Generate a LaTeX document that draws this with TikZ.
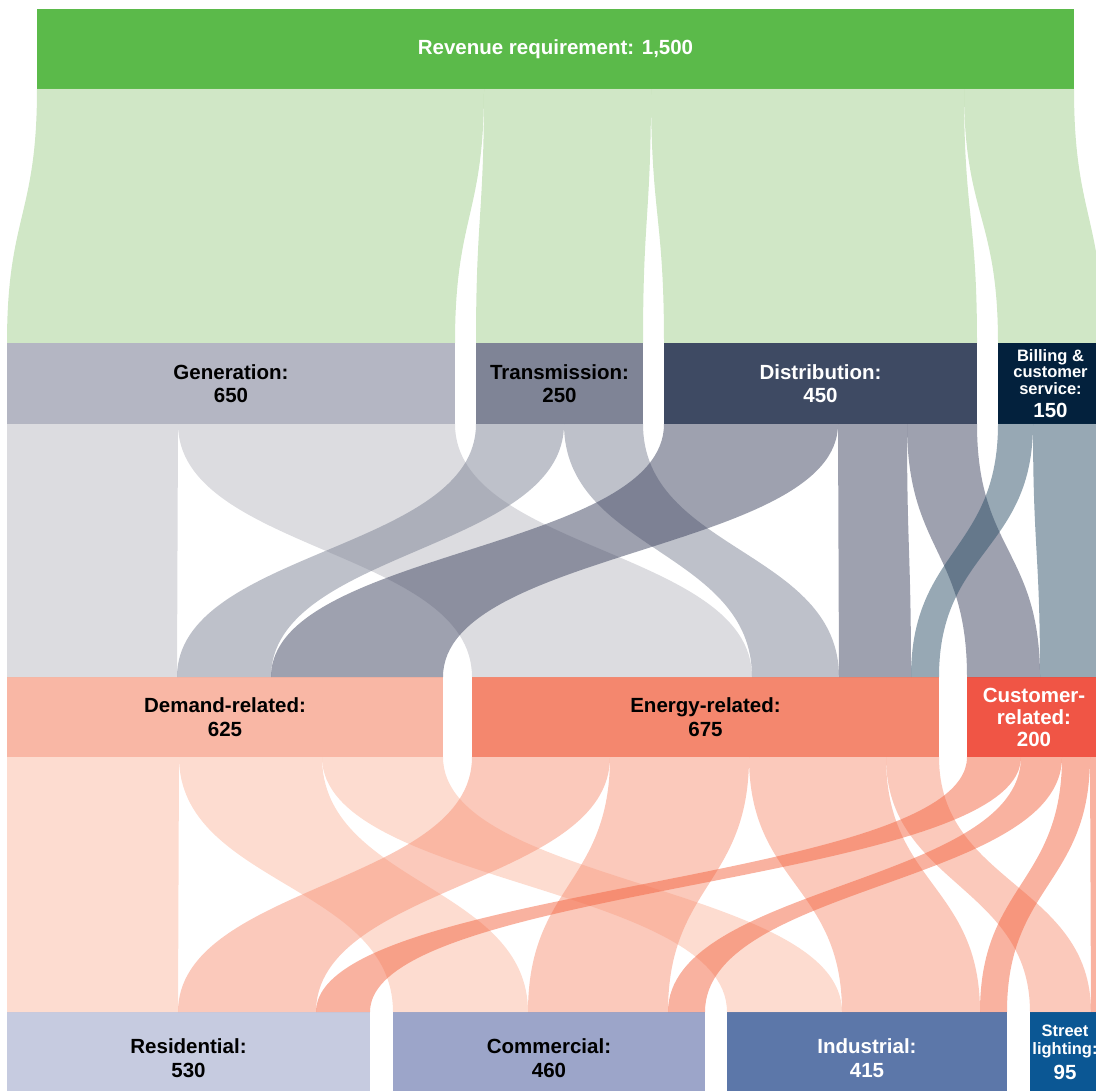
\documentclass[tikz,border=0pt]{standalone}
\usepackage{fontspec}
\setmainfont{Liberation Sans}
\usetikzlibrary{calc}

\definecolor{revcol}{HTML}{5BBA4A}
\definecolor{gencol}{HTML}{B4B6C3}
\definecolor{trancol}{HTML}{7F8496}
\definecolor{distcol}{HTML}{3E4A63}
\definecolor{billcol}{HTML}{03213D}
\definecolor{demcol}{HTML}{F9B7A5}
\definecolor{enecol}{HTML}{F4876E}
\definecolor{custcol}{HTML}{F05545}
\definecolor{rescol}{HTML}{C6CBE0}
\definecolor{comcol}{HTML}{9CA5C9}
\definecolor{indcol}{HTML}{5C77A9}
\definecolor{strcol}{HTML}{0B5794}
% flow colours (drawn at half opacity)
\definecolor{topflow}{HTML}{A1CF8D}
\definecolor{genflow}{HTML}{B9B9C1}
\definecolor{tranflow}{HTML}{7D8395}
\definecolor{distflow}{HTML}{3D435F}
\definecolor{billflow}{HTML}{2F5169}
\definecolor{demflow}{HTML}{FBB9A1}
\definecolor{eneflow}{HTML}{F79377}
\definecolor{custflow}{HTML}{F36541}

\newcommand{\boxfont}{\bfseries\fontsize{20.5}{23.5}\selectfont}
\newcommand{\smallboxfont}{\bfseries\fontsize{16.5}{16.5}\selectfont}

\begin{document}
\begin{tikzpicture}[
    x=1pt, y=-1pt,
    box/.style={rectangle, inner sep=0pt, outer sep=0pt, anchor=north west, align=center, font=\boxfont},
    band/.style={fill=#1, fill opacity=0.5, draw=none}
]
    \useasboundingbox (0,0) rectangle (1096,1091);

    % Revenue
    \node[box, fill=revcol, text=white, minimum width=1037, minimum height=80] (rev) at (37,9) {Revenue requirement: 1,500};

    % Functions
    \node[box, fill=gencol, minimum width=448, minimum height=81] (gen) at (7,343) {Generation:\\650};
    \node[box, fill=trancol, minimum width=167, minimum height=81] (tran) at (476,343) {Transmission:\\250};
    \node[box, fill=distcol, text=white, minimum width=313, minimum height=81] (dist) at (664,343) {Distribution:\\450};
    \node[box, fill=billcol, text=white, font=\smallboxfont, minimum width=105, minimum height=81] (bill) at (998,343) {Billing \&\\customer\\service:\\[6.5pt]{\boxfont 150}};

    % Classification
    \node[box, fill=demcol, minimum width=436, minimum height=80] (dem) at (7,677) {Demand-related:\\625};
    \node[box, fill=enecol, minimum width=467, minimum height=80] (ene) at (472,677) {Energy-related:\\675};
    \node[box, fill=custcol, text=white, font=\bfseries\fontsize{20.5}{22}\selectfont, minimum width=134, minimum height=80] (cust) at (967,677) {Customer-\\related:\\200};

    % Customer classes
    \node[box, fill=rescol, minimum width=363, minimum height=92] (res) at (7,1012) {Residential:\\530};
    \node[box, fill=comcol, minimum width=312, minimum height=92] (com) at (393,1012) {Commercial:\\460};
    \node[box, fill=indcol, text=white, minimum width=280, minimum height=92] (ind) at (727,1012) {Industrial:\\415};
    \node[box, fill=strcol, text=white, font=\smallboxfont, minimum width=70, minimum height=80] (str) at (1030,1012) {Street\\[2pt]lighting:\\[6pt]{\boxfont 95}};

    % Flows
    \foreach \src/\a/\b/\dst/\c/\d/\col in {
        rev/0/447/gen/0/448/topflow, rev/447/614/tran/0/167/topflow,
        rev/614/927/dist/0/313/topflow, rev/927/1037/bill/0/105/topflow,
        gen/0/171/dem/0/170/genflow, gen/171/448/ene/0/280/genflow,
        tran/0/88/dem/170/264/tranflow, tran/88/167/ene/280/367/tranflow,
        dist/0/174/dem/264/436/distflow, dist/174/243/ene/367/439/distflow,
        dist/243/313/cust/0/73/distflow,
        bill/0/35/ene/439/467/billflow, bill/35/105/cust/73/134/billflow,
        dem/0/172/res/0/171/demflow, dem/172/315/com/0/135/demflow,
        dem/315/436/ind/0/115/demflow,
        ene/0/138/res/171/309/eneflow, ene/138/277/com/135/275/eneflow,
        ene/277/414/ind/115/253/eneflow, ene/414/467/str/0/61/eneflow,
        cust/0/54/res/309/363/custflow, cust/54/95/com/275/312/custflow,
        cust/95/123/ind/253/280/custflow, cust/123/134/str/61/70/custflow}
    {
        \fill[band=\col] ($(\src.south west)+(\a,0)$) .. controls +(0,127) and +(0,-127) .. ($(\dst.north west)+(\c,0)$)
            -- ($(\dst.north west)+(\d,0)$) .. controls +(0,-127) and +(0,127) .. ($(\src.south west)+(\b,0)$) -- cycle;
    }
\end{tikzpicture}
\end{document}
